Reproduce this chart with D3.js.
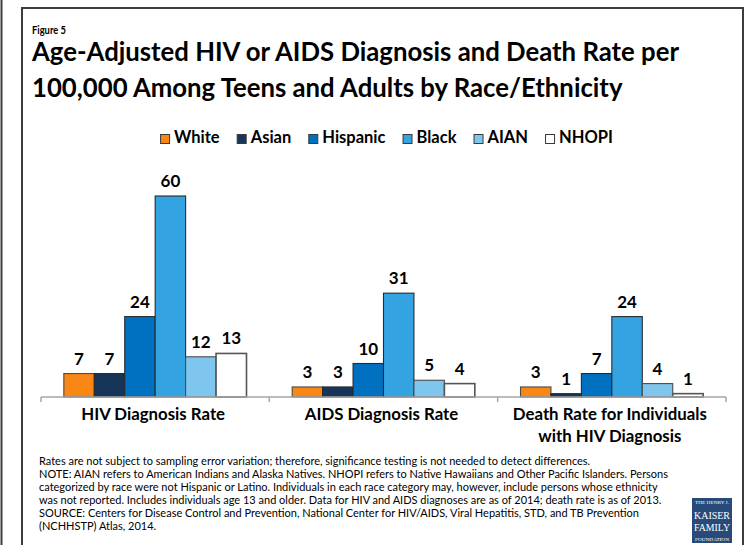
<!DOCTYPE html>
<html>
<head>
<meta charset="utf-8">
<script src="https://cdn.jsdelivr.net/npm/d3@7/dist/d3.min.js"></script>
<style>
  html, body { margin: 0; padding: 0; background: #fff; }
  svg { display: block; }
  text { font-family: Lato, "Open Sans", sans-serif; }
</style>
</head>
<body>
<svg id="chart" width="746" height="545"></svg>
<script>
// ---------- data ----------
const categories = ["HIV Diagnosis Rate", "AIDS Diagnosis Rate", "Death Rate for Individuals|with HIV Diagnosis"];
const seriesNames = ["White", "Asian", "Hispanic", "Black", "AIAN", "NHOPI"];
const whiteValues    = [7, 3, 3];
const asianValues    = [7, 3, 1];
const hispanicValues = [24, 10, 7];
const blackValues    = [60, 31, 24];
const aianValues     = [12, 5, 4];
const nhopiValues    = [13, 4, 1];
const figureLabel = "Figure 5";
const titleLines = [
  "Age-Adjusted HIV or AIDS Diagnosis and Death Rate per",
  "100,000 Among Teens and Adults by Race/Ethnicity"
];
const noteLines = [
  "Rates are not subject to sampling error variation; therefore, significance testing is not needed to detect differences.",
  "NOTE: AIAN refers to American Indians and Alaska Natives. NHOPI refers to Native Hawaiians and Other Pacific Islanders. Persons",
  "categorized by race were not Hispanic or Latino. Individuals in each race category may, however, include persons whose ethnicity",
  "was not reported. Includes individuals age 13 and older. Data for HIV and AIDS diagnoses are as of 2014; death rate is as of 2013.",
  "SOURCE: Centers for Disease Control and Prevention, National Center for HIV/AIDS, Viral Hepatitis, STD, and TB Prevention",
  "(NCHHSTP) Atlas, 2014."
];
const logoLines = ["THE HENRY J.", "KAISER", "FAMILY", "FOUNDATION"];

// ---------- styles ----------
const colors = ["#F98716", "#163558", "#0070C0", "#33A3E1", "#7FC6EE", "#FFFFFF"];
const strokes = ["#4a4a4a", "#2a2a2a", "#2a2a2a", "#2a2a2a", "#4a4a4a", "#555555"];

const seriesValues = [whiteValues, asianValues, hispanicValues, blackValues, aianValues, nhopiValues];
const table = categories.map((c, i) => ({
  category: c,
  values: seriesNames.map((s, j) => ({ series: s, value: seriesValues[j][i], idx: j }))
}));

const svg = d3.select("#chart");

// frame
svg.append("line").attr("x1", 1.5).attr("x2", 1.5).attr("y1", 0).attr("y2", 545)
  .attr("stroke", "#3c3c3c").attr("stroke-width", 2);
svg.append("path").attr("d", "M22,545 V8 H743 V545").attr("fill", "none")
  .attr("stroke", "#3c3c3c").attr("stroke-width", 2);

// compress a block of lines horizontally so that the reference line gets the target width
function compressBlock(els, refIndex, target) {
  const k = target / els[refIndex].node().getComputedTextLength();
  els.forEach(el => {
    const w = el.node().getComputedTextLength();
    el.attr("textLength", w * k).attr("lengthAdjust", "spacingAndGlyphs");
  });
}

// figure label
const fig = svg.append("text").attr("x", 32).attr("y", 34).attr("font-size", 11.5)
  .attr("font-weight", 700).attr("fill", "#000").text(figureLabel);
compressBlock([fig], 0, 34);

// title
const titleEls = titleLines.map((t, i) =>
  svg.append("text").attr("x", 32).attr("y", 61 + i * 36).attr("font-size", 26.5)
    .attr("font-weight", 700).attr("fill", "#000").text(t));
compressBlock(titleEls, 0, 647);

// scales
const x0 = d3.scaleBand().domain(categories).range([41, 726]).paddingInner(0).paddingOuter(0);
const x1 = d3.scaleBand().domain(seriesNames).range([0, x0.bandwidth()]).paddingInner(0).paddingOuter(0.75);
const y = d3.scaleLinear().domain([0, 60]).range([397, 196]);

// legend
const legend = svg.append("g");
let lx = 0;
seriesNames.forEach((s, i) => {
  const g = legend.append("g").attr("transform", `translate(${lx},0)`);
  g.append("rect").attr("x", 0.5).attr("y", 134.5).attr("width", 9).attr("height", 9)
    .attr("fill", colors[i]).attr("stroke", "#3a3a3a").attr("stroke-width", 1);
  const t = g.append("text").attr("x", 14).attr("y", 143).attr("font-size", 16.5)
    .attr("font-weight", 700).attr("fill", "#000").text(s);
  lx += 14 + t.node().getComputedTextLength() + 17;
});
const legendW = lx - 17;
legend.attr("transform", `translate(${386.5 - legendW / 2},0)`);

// bars
const groups = svg.append("g").selectAll("g").data(table).join("g")
  .attr("transform", d => `translate(${x0(d.category)},0)`);

groups.selectAll("rect").data(d => d.values).join("rect")
  .attr("x", d => x1(d.series))
  .attr("y", d => y(d.value))
  .attr("width", x1.bandwidth())
  .attr("height", d => y(0) - y(d.value))
  .attr("fill", d => colors[d.idx])
  .attr("stroke", d => strokes[d.idx])
  .attr("stroke-width", d => d.idx === 5 ? 1.6 : 1.1);

groups.selectAll("text.val").data(d => d.values).join("text").attr("class", "val")
  .attr("x", d => x1(d.series) + x1.bandwidth() / 2)
  .attr("y", d => y(d.value) - 9)
  .attr("text-anchor", "middle").attr("font-size", 17).attr("font-weight", 700)
  .attr("fill", "#000").text(d => d.value);

// axis
const axis = d3.axisBottom(x0).tickSize(0).tickFormat("");
const ax = svg.append("g").attr("transform", "translate(0,397)").call(axis);
ax.select(".domain").attr("stroke", "#a6a6a6").attr("stroke-width", 1.5).attr("d", "M41,0H726");
ax.selectAll(".tick").remove();
const tickXs = [...categories.map(c => x0(c)), x0.range()[1]];
ax.selectAll("line.sep").data(tickXs).join("line").attr("class", "sep")
  .attr("x1", d => d).attr("x2", d => d).attr("y1", 0).attr("y2", 5)
  .attr("stroke", "#a6a6a6").attr("stroke-width", 1.5);

// category labels
categories.forEach(c => {
  const lines = c.split("|");
  lines.forEach((ln, k) => {
    const el = svg.append("text").attr("x", x0(c) + x0.bandwidth() / 2 - 2).attr("y", 420 + k * 22)
      .attr("text-anchor", "middle").attr("font-size", 17.5).attr("font-weight", 700)
      .attr("fill", "#000").text(ln);
    const w = el.node().getComputedTextLength();
    el.attr("textLength", w * 0.96).attr("lengthAdjust", "spacingAndGlyphs");
  });
});

// notes
const noteEls = noteLines.map((t, i) =>
  svg.append("text").attr("x", 39).attr("y", 465 + i * 12.9).attr("font-size", 11)
    .attr("fill", "#000").text(t));
compressBlock(noteEls, 1, 629);

// logo
const logo = svg.append("g");
logo.append("rect").attr("x", 692).attr("y", 498).attr("width", 40).attr("height", 45).attr("fill", "#274A7A");
const logoY = [504, 518.5, 531, 540.5];
const logoFs = [4.8, 11, 11, 4.8];
const logoW = [34, 36, 36, 34];
logoLines.forEach((t, i) => {
  logo.append("text").attr("x", 712).attr("y", logoY[i]).attr("text-anchor", "middle")
    .attr("font-size", logoFs[i]).attr("fill", "#fff")
    .attr("textLength", logoW[i]).attr("lengthAdjust", "spacingAndGlyphs")
    .style("font-family", "'Liberation Serif', 'DejaVu Serif', serif").text(t);
});
</script>
</body>
</html>
